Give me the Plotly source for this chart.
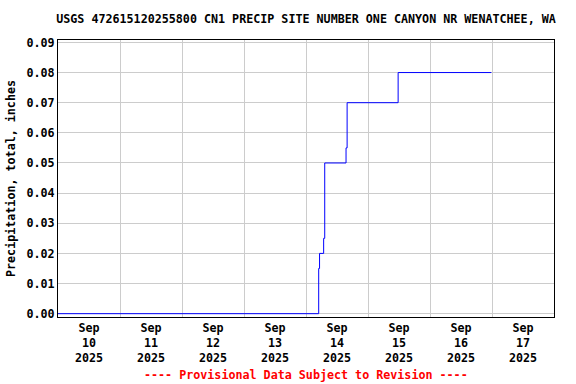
import plotly.graph_objects as go

# Data (cumulative precipitation, inches)
times = ["2025-09-10 00:00", "2025-09-14 04:55", "2025-09-14 05:15",
         "2025-09-14 06:50", "2025-09-14 07:15", "2025-09-14 15:30",
         "2025-09-14 15:55", "2025-09-15 11:40", "2025-09-16 23:45"]
values = [0.0, 0.015, 0.02, 0.025, 0.05, 0.055, 0.07, 0.08, 0.08]

# Axis ticks
x_label_vals = ["2025-09-10 12:00", "2025-09-11 12:00", "2025-09-12 12:00",
                "2025-09-13 12:00", "2025-09-14 12:00", "2025-09-15 12:00",
                "2025-09-16 12:00", "2025-09-17 12:00"]
x_label_text = ["Sep<br>10<br>2025", "Sep<br>11<br>2025", "Sep<br>12<br>2025",
                "Sep<br>13<br>2025", "Sep<br>14<br>2025", "Sep<br>15<br>2025",
                "Sep<br>16<br>2025", "Sep<br>17<br>2025"]
x_grid_vals = ["2025-09-11", "2025-09-12", "2025-09-13", "2025-09-14",
               "2025-09-15", "2025-09-16", "2025-09-17"]
x_range = ["2025-09-10 00:00", "2025-09-18 00:00"]
y_tick_vals = [0.0, 0.01, 0.02, 0.03, 0.04, 0.05, 0.06, 0.07, 0.08, 0.09]
y_tick_text = ["0.00", "0.01", "0.02", "0.03", "0.04", "0.05", "0.06",
               "0.07", "0.08", "0.09"]
y_range = [-0.0011, 0.0908]

title_text = "USGS 472615120255800 CN1 PRECIP SITE NUMBER ONE CANYON NR WENATCHEE, WA"
y_title = "Precipitation, total, inches"
footer = "---- Provisional Data Subject to Revision ----"

FONT = "DejaVu Sans Mono"
FS = 11.7

fig = go.Figure()
fig.add_trace(go.Scatter(x=times, y=values, mode="lines", line_shape="hv",
                         line=dict(color="#0000ff", width=1), showlegend=False,
                         hoverinfo="skip"))

fig.update_layout(
    width=576, height=384,
    margin=dict(l=58, r=22, t=40, b=67),
    paper_bgcolor="white", plot_bgcolor="white",
    font=dict(family=FONT, size=FS, color="black"),
    title=dict(text="<b>" + title_text + "</b>", x=0.5, xref="paper",
               y=1 - 19 / 384, yref="container", yanchor="middle",
               xanchor="center", font=dict(family=FONT, size=FS, color="black")),
    xaxis=dict(type="date", range=x_range, tickmode="array",
               tickvals=x_label_vals,
               ticktext=["<b>" + t.replace("<br>", "</b><br><b>") + "</b>" for t in x_label_text],
               showgrid=False, ticks="", showline=True, linecolor="black",
               linewidth=1, mirror=True, zeroline=False,
               minor=dict(tickmode="array", tickvals=x_grid_vals, showgrid=True,
                          gridcolor="#cccccc", gridwidth=1, ticks=""),
               tickfont=dict(family=FONT, size=FS, color="black")),
    yaxis=dict(range=y_range, tickmode="array", tickvals=y_tick_vals,
               ticktext=["<b>" + t + "</b>" for t in y_tick_text],
               showgrid=True, gridcolor="#cccccc", gridwidth=1, ticks="",
               showline=True, linecolor="black", linewidth=1, mirror=True,
               zeroline=False, automargin=False,
               title=dict(text="<b>" + y_title + "</b>", standoff=8,
                          font=dict(family=FONT, size=FS, color="black")),
               tickfont=dict(family=FONT, size=FS, color="black")),
    annotations=[dict(text="<b>" + footer + "</b>", xref="paper", yref="paper",
                      x=0.5, y=-(375 - 316.5) / 277, xanchor="center",
                      yanchor="middle", showarrow=False,
                      font=dict(family=FONT, size=FS, color="#ff0000"))],
)

fig.write_html("out.html", config={"displayModeBar": False},
               post_script="document.body.style.margin='0';document.body.style.overflow='hidden';")
